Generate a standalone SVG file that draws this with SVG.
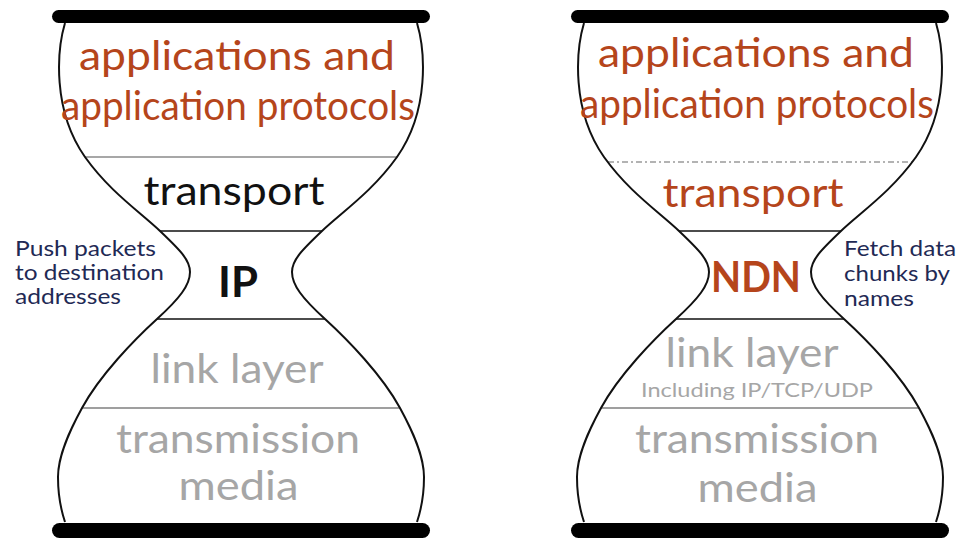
<svg xmlns="http://www.w3.org/2000/svg" xmlns:xlink="http://www.w3.org/1999/xlink" width="968" height="540" viewBox="0 0 968 540">
<style>
.side{fill:none;stroke:#111;stroke-width:2}
.bar{fill:#000}
.big{font-family:Lato,"Liberation Sans",sans-serif;font-size:40px;text-anchor:middle}
.org{fill:#B5451B}
.gry{fill:#A6A6A6}
.dk{fill:#111}
.lbl{font-family:Lato,"Liberation Sans",sans-serif;font-size:20.5px;fill:#1f2a55}
.bold{font-family:Lato,"Liberation Sans",sans-serif;font-size:42px;font-weight:bold;text-anchor:middle}
.ln{stroke-width:1.5;fill:none}
</style>
<defs>
<path id="half" d="M65 23 C57 50 52 110 85 157 C110 192 140 212 160 231 C180 250 190 260 190 272 C190 285 180 298 157 319 C134 340 100 375 82 408 C70 430 58 455 58 477 C58 495 61 510 65 522"/>
<g id="shell">
<use xlink:href="#half" class="side"/>
<use xlink:href="#half" class="side" transform="translate(482,0) scale(-1,1)"/>
<rect class="bar" x="52" y="10" width="378" height="13" rx="6.5"/>
<rect class="bar" x="52" y="523" width="378" height="15" rx="7.5"/>
</g>
</defs>
<g id="connectors">
<line class="ln" x1="85" y1="157" x2="397" y2="157" stroke="#8a8a8a"/>
<line class="ln" x1="160" y1="231" x2="322" y2="231" stroke="#111"/>
<line class="ln" x1="157" y1="319" x2="325" y2="319" stroke="#111"/>
<line class="ln" x1="82" y1="408" x2="400" y2="408" stroke="#7f7f7f"/>
<line class="ln" x1="608" y1="162" x2="912" y2="162" stroke="#9a9a9a" stroke-dasharray="6 3 2 3"/>
<line class="ln" x1="679" y1="231" x2="841" y2="231" stroke="#111"/>
<line class="ln" x1="676" y1="319" x2="844" y2="319" stroke="#111"/>
<line class="ln" x1="601" y1="408" x2="919" y2="408" stroke="#7f7f7f"/>
</g>
<g id="hourglass-ip">
<use xlink:href="#shell"/>
<text class="big org" x="237" y="70" textLength="316" lengthAdjust="spacingAndGlyphs">applications and</text>
<text class="big org" x="238" y="120" textLength="354" lengthAdjust="spacingAndGlyphs">application protocols</text>
<text class="big dk" x="234" y="205" textLength="181" lengthAdjust="spacingAndGlyphs">transport</text>
<text class="bold dk" x="238" y="297" textLength="40" lengthAdjust="spacingAndGlyphs">IP</text>
<text class="big gry" x="237" y="383" textLength="173" lengthAdjust="spacingAndGlyphs">link layer</text>
<text class="big gry" x="238" y="453" textLength="244" lengthAdjust="spacingAndGlyphs">transmission</text>
<text class="big gry" x="238.5" y="500" textLength="120" lengthAdjust="spacingAndGlyphs">media</text>
</g>
<g id="label-push">
<text class="lbl" x="15" y="256" textLength="141" lengthAdjust="spacingAndGlyphs">Push packets</text>
<text class="lbl" x="15" y="280" textLength="149" lengthAdjust="spacingAndGlyphs">to destination</text>
<text class="lbl" x="15" y="304" textLength="106" lengthAdjust="spacingAndGlyphs">addresses</text>
</g>
<g id="hourglass-ndn">
<use xlink:href="#shell" transform="translate(519,0)"/>
<text class="big org" x="756" y="67" textLength="316" lengthAdjust="spacingAndGlyphs">applications and</text>
<text class="big org" x="757" y="118" textLength="354" lengthAdjust="spacingAndGlyphs">application protocols</text>
<text class="big org" x="753" y="207" textLength="181" lengthAdjust="spacingAndGlyphs">transport</text>
<text class="bold org" x="756" y="292" textLength="90" lengthAdjust="spacingAndGlyphs">NDN</text>
<text class="big gry" x="752" y="367" textLength="173" lengthAdjust="spacingAndGlyphs">link layer</text>
<text class="gry" x="757" y="397" font-family="Lato,'Liberation Sans',sans-serif" font-size="20" text-anchor="middle" textLength="232" lengthAdjust="spacingAndGlyphs">Including IP/TCP/UDP</text>
<text class="big gry" x="757" y="453" textLength="244" lengthAdjust="spacingAndGlyphs">transmission</text>
<text class="big gry" x="757.5" y="502" textLength="120" lengthAdjust="spacingAndGlyphs">media</text>
</g>
<g id="label-fetch">
<text class="lbl" x="844" y="256" textLength="112" lengthAdjust="spacingAndGlyphs">Fetch data</text>
<text class="lbl" x="844" y="281" textLength="106" lengthAdjust="spacingAndGlyphs">chunks by</text>
<text class="lbl" x="844" y="306" textLength="70" lengthAdjust="spacingAndGlyphs">names</text>
</g>
</svg>
